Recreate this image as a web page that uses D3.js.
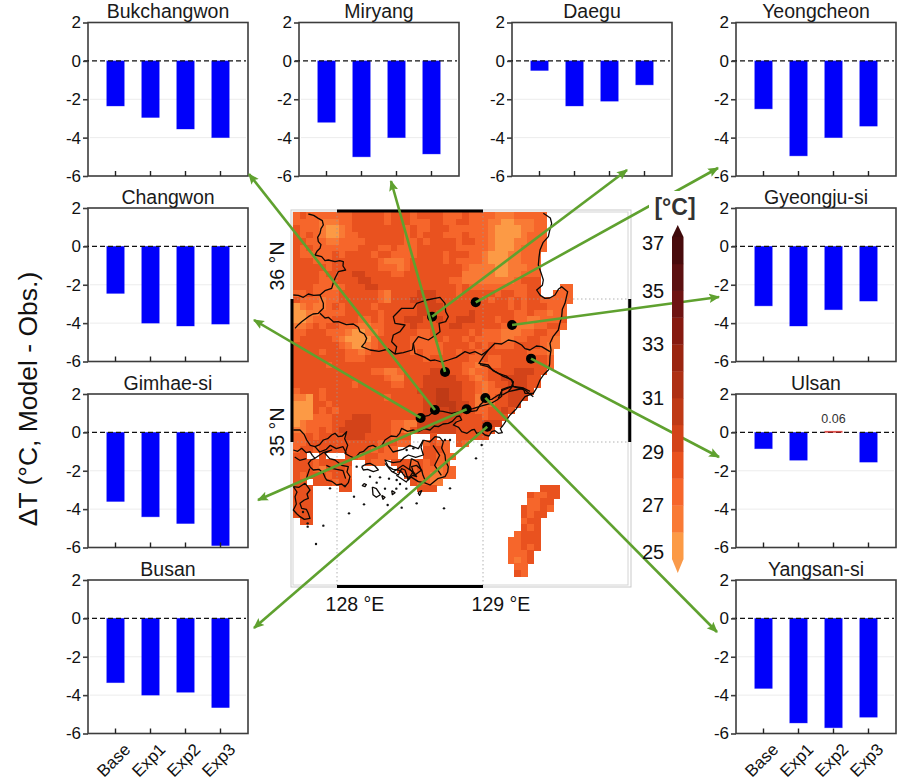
<!DOCTYPE html>
<html>
<head>
<meta charset="utf-8">
<script src="https://cdn.jsdelivr.net/npm/d3@7"></script>
<style>
html,body{margin:0;padding:0;background:#fff}
svg{display:block;font-family:"Liberation Sans",Arial,sans-serif}
</style>
</head>
<body>
<svg id="fig" width="901" height="783"></svg>
<script>
// Temperature bias per experiment
const experiments = ["Base","Exp1","Exp2","Exp3"];
const sites = ["Bukchangwon","Miryang","Daegu","Yeongcheon","Changwon","Gyeongju-si","Gimhae-si","Ulsan","Busan","Yangsan-si"];
const bukchangwon = [-2.35,-2.95,-3.55,-4.0];
const miryang     = [-3.2,-5.0,-4.0,-4.85];
const daegu       = [-0.5,-2.35,-2.1,-1.25];
const yeongcheon  = [-2.5,-4.95,-4.0,-3.4];
const changwon    = [-2.45,-4.0,-4.15,-4.05];
const gyeongju    = [-3.1,-4.15,-3.3,-2.85];
const gimhae      = [-3.6,-4.4,-4.75,-5.9];
const ulsan       = [-0.85,-1.45,0.06,-1.55];
const busan       = [-3.35,-4.0,-3.85,-4.65];
const yangsan     = [-3.65,-5.45,-5.7,-5.15];
const biasValues  = [bukchangwon,miryang,daegu,yeongcheon,changwon,gyeongju,gimhae,ulsan,busan,yangsan];
const biasTicks   = [2,0,-2,-4,-6];

// Station locations, same order as sites: [lon, lat]
const stations = [[128.671,35.224],[128.740,35.490],[128.651,35.876],[128.950,35.977],[128.573,35.168],
                  [129.199,35.818],[128.888,35.229],[129.329,35.583],[129.029,35.107],[129.016,35.308]];

// Colour classes of the temperature field, 25 to 37 °C
const tempBreaks = [25,26,27,28,29,30,31,32,33,34,35,36,37];
const tempColors = ["#fc9a45","#f97a35","#f6662b","#e9521f","#d34319","#bf3a16","#ae3014","#9a2510","#861a10","#6e1312","#5c1011","#480b0c"];
const tempLabels = [37,35,33,31,29,27,25];

// Simulated temperature per model cell, one digit per cell: degrees above 25 °C, "." = sea
const fieldRows = [
"232222222333332333233332223222211122222",
"222211122333332333222332233222110011122",
"322210012333333332322333222222100001122",
"323210012233333332323332223222100001222",
"332221122223333332232333323322100011222",
"323222222233322322233333322222100012222",
"32222232333323322223333233322100011222",
"33322233333332111233333232222100011222",
"33333233333332221233333333211110011122",
"33332333344333322333333333111110011222",
"33332233334433333333333322111111112333",
"33322212333443333333333332322222222233...22",
"22322223333332133334443332333332332233..222",
"3222122333333213334444333333332332323322222",
"012112323333233333344443333333333232333222",
"001122223333323333344433333433333322322122",
"001222333322323334443343344433323322112223",
"112323322211223333433333443333332211122332",
"22333222100112333332233333323222111223322",
"23333321000023333322223233232222112233221",
"33333332100123333322222333323232223333211",
"3333233322123333332322233233233333332221",
"3333333322233333333323333332232233333332",
"3333323333333333333333333322122233333332",
"333333333333221123333444332122333344433",
"33333333333333211333444443321233444433",
"33333333323333322333444444332123344433",
"2333233333333333333444554433212234443",
"110323333333332333334455443312233444",
"00033233333333333333445554431223344",
"0003232333333333333344445443223343",
"000222333444333333344444443332333",
"01222233444433322114444443333444",
"1122323444443332213444444333333",
"223233334443333233...3...33333",
"223333333333323322..2322.32",
"2332333333332322....3332",
"33..3...33233222....33222",
"333233333..322.333232322",
"333213332.......332322122",
"323332332........33221122",
"33.333233.........32211",
"333....33..........333",
"333","333","333","333",".33"
];

// Offshore patch as [row, first column, cell digits]
const patchRows = [
[42,38,"333"],[43,36,"32233"],[44,36,"2233"],[45,35,"32232"],[46,35,"3233"],[47,35,"233"],
[48,35,"323"],[49,34,"2333"],[50,33,"22333"],[51,33,"22323"],[52,33,"2223"],[53,33,"2123"],
[54,34,"22"],[55,34,"32"]
];

// Province lines and coastline, in map units of a third of a kilometre from the NW corner
const outlines = [
[[46,6],[62,10],[76,19],[88,26],[91,39],[84,50],[81,64],[74,76],[76,89],[84,98],[81,109],[72,118],[66,129],[86,134],[96,146],[106,144],[126,149],[140,146],[151,149],[150,162],[158,174],[136,179],[126,199],[120,216],[116,229],[96,236],[81,249]],
[[81,249],[62,250],[46,246],[31,256],[16,250],[1,249]],
[[81,249],[86,262],[91,274],[91,289],[76,304],[60,306],[46,314],[26,329],[16,338],[6,349]],
[[81,304],[96,318],[106,316],[122,330],[136,329],[160,338],[181,336],[196,346],[201,359],[214,366],[221,379],[216,392],[206,404],[231,414],[258,418],[286,411],[306,426],[331,422],[358,414],[361,394],[376,374],[406,384],[428,369],[441,359],[438,334],[458,329],[466,314],[458,299],[456,274],[441,256],[401,264],[371,274],[361,289],[326,289],[301,314],[306,334],[336,339],[321,359],[301,369],[296,389],[311,404],[306,426]],
[[361,394],[366,424],[396,436],[412,446],[426,444],[446,450],[466,444],[490,436],[516,419],[530,424],[546,419],[566,429],[586,414],[606,394],[626,396],[646,384],[666,388],[686,399],[696,410],[711,414],[730,402],[746,404],[771,419]],
[[586,414],[571,434],[558,454],[586,459],[600,476],[616,484],[640,492],[661,509],[656,524],[626,536],[616,559]],
[[661,524],[696,534],[710,546],[721,554]],
[[751,4],[772,18],[776,34],[770,56],[766,74],[750,92],[741,114],[738,136],[736,159],[744,182],[751,204],[748,220],[731,234],[742,250],[756,259],[770,258],[786,249],[796,232],[806,224],[824,239],[820,256],[816,274],[808,292],[806,314],[800,336],[796,354],[780,374],[771,394],[774,414],[771,434],[770,456],[766,474],[752,488],[741,504],[732,526],[721,544],[696,554],[682,572],[670,590],[652,608],[640,625],[631,639]],
[[391,614],[408,610],[426,596],[450,598],[476,604],[498,600],[521,592],[536,598],[551,596],[562,578],[576,564],[596,562],[616,549],[630,548],[646,539],[656,526],[661,509]],
[[646,539],[668,534],[691,529],[696,544],[721,544]],
[[561,458],[584,464],[606,478],[631,493],[656,503],[661,523],[691,528],[711,538]],
[[661,523],[644,526],[626,533],[626,553],[612,564],[596,573],[561,583],[540,590],[521,593]],
[[631,639],[622,650],[628,662],[616,664],[606,656],[596,659],[588,672],[576,669],[566,660],[551,664],[544,652],[536,654],[522,664],[506,659],[497,646],[481,639],[490,630],[506,624],[500,612],[491,614],[478,628],[466,634],[450,636],[436,644],[424,642],[411,654],[394,650],[376,659],[361,654],[344,658],[326,649],[320,664],[311,674],[294,672],[276,684],[268,698],[256,709],[240,700],[226,704],[212,718],[200,722],[186,739],[170,732],[156,724],[164,700],[155,680],[161,659],[148,672],[136,674],[126,664],[116,669],[104,680],[91,684],[80,698],[66,704],[52,700],[41,684],[34,668],[21,654],[1,654]],
[[1,714],[14,718],[26,709],[40,722],[51,719],[58,730],[66,739],[54,744],[46,754],[52,766],[61,774],[78,772],[91,784],[96,796],[101,804],[116,808],[131,819],[146,816],[156,824],[166,812],[171,794],[162,780],[166,764],[146,760],[126,744],[110,740],[96,724],[106,718],[116,714],[90,722],[66,739]],
[[1,824],[18,826],[36,814],[44,824],[51,834],[42,846],[46,859],[34,864],[21,874],[26,889],[40,892],[46,904],[51,919],[34,922],[21,914],[12,906],[1,894],[10,876],[6,854],[12,840],[1,824]],
[[391,684],[410,690],[426,674],[440,676],[451,689],[446,708],[456,729],[458,748],[466,764],[464,780],[456,794],[434,800],[411,819],[394,812],[376,809],[356,796],[336,794],[326,780],[316,774],[300,772],[286,764],[276,744],[300,752],[321,749],[334,736],[346,729],[368,736],[391,729],[384,706],[391,684]],
[[206,764],[220,756],[231,754],[246,762],[256,774],[241,779],[224,772],[211,774],[206,764]],
[[276,754],[296,778],[316,789],[326,770],[336,774],[342,792],[346,804],[358,790],[371,794],[360,778],[356,764],[370,760],[386,774],[390,790],[396,804]],
[[66,704],[80,720],[100,712],[112,700],[130,710],[150,704],[160,724]],
[[40,740],[20,745],[5,735]],
[[100,760],[120,770],[150,776],[158,800]],
[[66,790],[40,800],[50,770]],
[[286,700],[300,720],[330,712],[350,700],[376,710],[391,684]],
[[300,780],[330,760],[360,780],[340,810],[310,790]],
[[355,740],[375,750],[385,775],[365,790],[350,770],[355,740]],
[[420,700],[440,730],[425,760],[445,790]],
[[213,815],[220,818],[216,824],[208,821],[213,815]],
[[238,825],[250,830],[262,848],[250,856],[240,848],[238,825]],
[[266,850],[276,856],[270,862],[266,850]],
[[296,836],[306,842],[298,848],[296,836]],
[[375,842],[386,836],[380,850],[375,842]]
];
const islets = [[213,877],[326,887],[284,879],[183,854],[168,904],[91,941],[69,996],[44,934],[453,889],[371,874],[471,829],[566,699],[549,739],[456,684],[471,684],[361,709],[341,714],[311,804],[321,816],[261,796],[191,764],[111,829],[156,822],[231,794],[251,812],[276,830],[310,830],[340,830],[288,800],[44,944],[30,900]];

const lonTicks = [128,129];
const latTicks = [35,36];

// Panel placement and where each site's arrow ends
const panelSize = {w:160,h:153.5};
const panelLeft = {a:88,b:299,c:512,d:736};
const panelTop = [22.5,208,394,580];
const panelPos = [
 [panelLeft.a,panelTop[0],249,174],[panelLeft.b,panelTop[0],391,181],[panelLeft.c,panelTop[0],627,170],[panelLeft.d,panelTop[0],718,168],
 [panelLeft.a,panelTop[1],254,320],[panelLeft.d,panelTop[1],719,297],
 [panelLeft.a,panelTop[2],258,500],[panelLeft.d,panelTop[2],719,457],
 [panelLeft.a,panelTop[3],254,628],[panelLeft.d,panelTop[3],717,632]
];
const labelledRows = ["Busan","Yangsan-si"];

const svg = d3.select("#fig");
const defs = svg.append("defs");
defs.append("marker").attr("id","head").attr("viewBox","0 0 10 10").attr("refX",9).attr("refY",5)
  .attr("markerUnits","userSpaceOnUse").attr("markerWidth",11).attr("markerHeight",11).attr("orient","auto")
  .append("path").attr("d","M0,0.8L10,5L0,9.2L2,5Z").attr("fill","#5fa12f");

/* ---------- central map ---------- */
const map = svg.append("g");
const lonX = d3.scaleLinear().domain([128,129]).range([337,483]);
const latY = d3.scaleLinear().domain([35,36]).range([442,299]);
const unitX = d3.scaleLinear().domain([0,1011]).range([293,630]);
const unitY = d3.scaleLinear().domain([0,1122]).range([212,586]);
const colX = d3.scaleBand().domain(d3.range(44)).range([293,293+6.5*44]);
const rowY = d3.scaleBand().domain(d3.range(56)).range([212,212+6.5*56]);
const tempColor = d3.scaleThreshold().domain(tempBreaks.slice(1,-1)).range(tempColors);

map.append("rect").attr("x",291).attr("y",210).attr("width",340).attr("height",377)
  .attr("fill","#fff").attr("stroke","#c9c9c9").attr("stroke-width",1);
map.append("rect").attr("x",293).attr("y",212).attr("width",335).attr("height",373)
  .attr("fill","#fff").attr("stroke","#d4d4d4").attr("stroke-width",1);

const cells = [];
fieldRows.forEach((s,r)=>{ for(let c=0;c<s.length;c++){ if(s[c]!==".") cells.push({r,c,t:25.5+ +s[c]}); }});
patchRows.forEach(([r,c0,s])=>{ for(let i=0;i<s.length;i++) cells.push({r,c:c0+i,t:25.5+ +s[i]}); });
map.append("g").attr("shape-rendering","crispEdges").selectAll("rect").data(cells).join("rect")
  .attr("x",d=>colX(d.c)).attr("y",d=>rowY(d.r))
  .attr("width",colX.bandwidth()+.6).attr("height",rowY.bandwidth()+.6)
  .attr("fill",d=>tempColor(d.t));

// Graticule and the black end bars
const grat = map.append("g").attr("stroke","#9a9a9a").attr("stroke-width",1).attr("stroke-dasharray","1.5,2.5").attr("opacity",.75);
lonTicks.forEach(v=>grat.append("line").attr("x1",lonX(v)).attr("x2",lonX(v)).attr("y1",212).attr("y2",585));
latTicks.forEach(v=>grat.append("line").attr("y1",latY(v)).attr("y2",latY(v)).attr("x1",293).attr("x2",628));
const bars = map.append("g").attr("stroke","#000").attr("stroke-width",3);
[211,586.5].forEach(y=>bars.append("line").attr("x1",lonX(128)).attr("x2",lonX(129)).attr("y1",y).attr("y2",y));
[292,629.7].forEach(x=>bars.append("line").attr("y1",latY(36)).attr("y2",latY(35)).attr("x1",x).attr("x2",x));

const outlinePath = d3.line().x(d=>unitX(d[0])).y(d=>unitY(d[1]));
map.append("g").attr("fill","none").attr("stroke","#0c0805").attr("stroke-width",1.3).attr("stroke-linejoin","round")
  .selectAll("path").data(outlines).join("path").attr("d",outlinePath);
map.append("g").selectAll("circle").data(islets).join("circle")
  .attr("cx",d=>unitX(d[0])).attr("cy",d=>unitY(d[1])).attr("r",1.2).attr("fill","#111");

map.append("g").selectAll("circle").data(stations).join("circle")
  .attr("cx",d=>lonX(d[0])).attr("cy",d=>latY(d[1])).attr("r",5).attr("fill","#000");

// Map tick labels
const labelMap = svg.append("g").attr("fill","#111").attr("font-size",19.5);
lonTicks.forEach(v=>labelMap.append("text").attr("x",lonX(v)+18).attr("y",611).attr("text-anchor","middle").text(v+" °E"));
latTicks.forEach(v=>labelMap.append("text").attr("text-anchor","middle")
  .attr("transform",`translate(284,${latY(v)-(v===36?33:10)}) rotate(-90)`).text(v+" °N"));

/* ---------- bias panels ---------- */
const xBand = d3.scaleBand().domain(experiments).range([0,panelSize.w]).paddingInner(.5).paddingOuter(.536);
const yBias = d3.scaleLinear().domain([-6,2]).range([panelSize.h,0]);

sites.forEach((name,i)=>{
  const g = svg.append("g").attr("transform",`translate(${panelPos[i][0]},${panelPos[i][1]})`);
  const vals = biasValues[i];
  g.append("rect").attr("width",panelSize.w).attr("height",panelSize.h).attr("fill","#fff");
  g.append("g").selectAll("line").data([-2,-4]).join("line")
    .attr("x1",2).attr("x2",panelSize.w-2).attr("y1",yBias).attr("y2",yBias)
    .attr("stroke","#ececec").attr("stroke-width",1);
  g.selectAll("rect.bar").data(vals).join("rect").attr("class","bar")
    .attr("x",(d,k)=>xBand(experiments[k])).attr("width",xBand.bandwidth())
    .attr("y",d=>yBias(Math.max(d,0))).attr("height",d=>Math.abs(yBias(d)-yBias(0)))
    .attr("fill",d=>d>0?"#d8322e":"#0000fa")
    .attr("stroke",d=>d>0?"#d8322e":"#0000fa").attr("stroke-opacity",.45).attr("stroke-width",.8);
  g.selectAll("text.val").data(vals.filter(d=>d>0)).join("text").attr("class","val")
    .attr("x",xBand(experiments[vals.findIndex(d=>d>0)])+xBand.bandwidth()/2)
    .attr("y",d=>yBias(d)-8).attr("text-anchor","middle").attr("font-size",12.5).attr("fill","#333")
    .text(d=>d.toFixed(2));
  g.append("rect").attr("width",panelSize.w).attr("height",panelSize.h)
    .attr("fill","none").attr("stroke","#3d3d3d").attr("stroke-width",1.6);
  g.append("line").attr("x1",-4).attr("x2",panelSize.w-2).attr("y1",yBias(0)).attr("y2",yBias(0))
    .attr("stroke","#111").attr("stroke-width",1.4).attr("stroke-dasharray","5,3");
  // A warm bias sits so close to zero that it has to stay above the dashed line
  g.selectAll("rect.bar").filter(d=>d>0).raise();

  const ya = g.append("g").call(d3.axisLeft(yBias).tickValues(biasTicks).tickSize(5).tickPadding(2).tickFormat(d=>String(d)));
  ya.select(".domain").remove();
  ya.selectAll("line").attr("stroke","#3d3d3d").attr("stroke-width",1.6);
  ya.selectAll("text").attr("font-size",17).attr("font-family","inherit").attr("fill","#111");

  const xa = g.append("g").attr("transform",`translate(0,${panelSize.h})`)
    .call(d3.axisBottom(xBand).tickSize(-5).tickPadding(3));
  xa.select(".domain").remove();
  xa.selectAll("line").attr("stroke","#222").attr("stroke-width",1.4);
  if(labelledRows.includes(name)){
    xa.selectAll("text").attr("font-size",17).attr("font-family","inherit").attr("fill","#111")
      .attr("text-anchor","end").attr("y",0).attr("dy",0)
      .attr("transform","translate(16,17) rotate(-45)");
  } else {
    xa.selectAll("text").remove();
  }
  g.append("text").attr("x",panelSize.w/2).attr("y",-4.5).attr("text-anchor","middle")
    .attr("font-size",19.5).attr("fill","#1a1a1a").text(name);
});

/* ---------- arrows from stations to panels ---------- */
svg.append("g").selectAll("line").data(sites).join("line")
  .attr("x1",(d,i)=>lonX(stations[i][0])).attr("y1",(d,i)=>latY(stations[i][1]))
  .attr("x2",(d,i)=>panelPos[i][2]).attr("y2",(d,i)=>panelPos[i][3])
  .attr("stroke","#5fa12f").attr("stroke-width",2.6).attr("marker-end","url(#head)");

/* ---------- colour bar ---------- */
const bar = svg.append("g");
const barY = d3.scaleLinear().domain([25,37]).range([559,237]);
const barX0 = 672, barX1 = 683.5;
bar.selectAll("rect").data(tempColors).join("rect")
  .attr("x",barX0).attr("width",barX1-barX0)
  .attr("y",(d,i)=>barY(tempBreaks[i+1])).attr("height",(d,i)=>barY(tempBreaks[i])-barY(tempBreaks[i+1])+.3)
  .attr("fill",d=>d);
bar.append("path").attr("d",`M${barX0},${barY(37)}L${(barX0+barX1)/2},${barY(37)-12}L${barX1},${barY(37)}Z`).attr("fill","#3f0a0b");
bar.append("path").attr("d",`M${barX0},${barY(25)}L${(barX0+barX1)/2},${barY(25)+14}L${barX1},${barY(25)}Z`).attr("fill","#f99a4a");
bar.append("g").selectAll("text").data(tempLabels).join("text")
  .attr("x",653).attr("text-anchor","middle").attr("font-size",20).attr("fill","#111")
  .attr("y",d=>Math.min(Math.max(barY(d),243),552)+7).text(d=>d);
bar.append("rect").attr("x",649).attr("y",191).attr("width",50).attr("height",29).attr("fill","#fff");
bar.append("text").attr("x",675).attr("y",215).attr("text-anchor","middle").attr("font-size",23).attr("font-weight","bold").attr("fill","#333").text("[°C]");

/* ---------- shared axis title ---------- */
svg.append("text").attr("transform","translate(37,399) rotate(-90)").attr("text-anchor","middle")
  .attr("font-size",26.5).attr("fill","#111").text("ΔT (°C, Model - Obs.)");
</script>
</body>
</html>
